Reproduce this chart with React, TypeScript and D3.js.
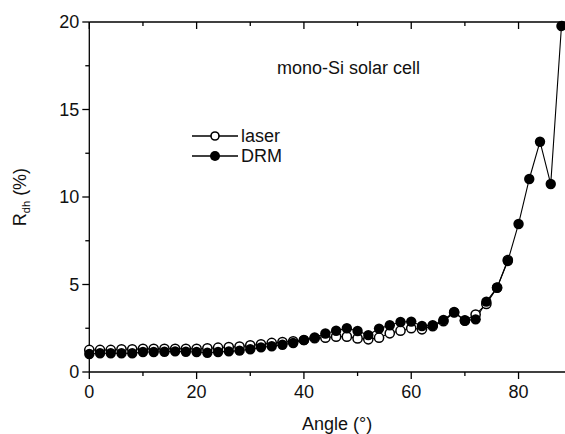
import React from 'react';
import * as d3 from 'd3';

const angles = d3.range(0, 90, 2);
const laserValues = [
  1.26, 1.26, 1.26, 1.3, 1.3, 1.32, 1.32, 1.33, 1.33, 1.33, 1.33, 1.35, 1.39, 1.43, 1.45, 1.52, 1.58, 1.66, 1.71, 1.75,
  1.83, 1.93, 1.96, 2.02, 2.02, 1.92, 1.87, 1.96, 2.21, 2.36, 2.5, 2.44, 2.62, 2.9, 3.4, 2.95, 3.28, 3.89, 4.82, 6.4,
];
const drmValues = [
  1.03, 1.07, 1.07, 1.07, 1.07, 1.14, 1.14, 1.16, 1.18, 1.16, 1.14, 1.1, 1.14, 1.18, 1.22, 1.3, 1.41, 1.47, 1.56, 1.66,
  1.82, 1.98, 2.2, 2.36, 2.5, 2.34, 2.11, 2.48, 2.67, 2.86, 2.88, 2.63, 2.67, 2.97, 3.43, 2.93, 3.01, 4.02, 4.82, 6.34,
  8.46, 11.03, 13.16, 10.74, 19.77,
];
const xMajor = [0, 20, 40, 60, 80];
const xMinor = [10, 30, 50, 70, 90];
const yMajor = [0, 5, 10, 15, 20];
const yMinor = [2.5, 7.5, 12.5, 17.5];

const W = 565;
const H = 434;
const FONT = 'Liberation Sans, Arial, sans-serif';
const FS = 18;

export default function App() {
  const x = d3.scaleLinear().domain([0, 90]).range([89.3, 572.2]);
  const y = d3.scaleLinear().domain([0, 20]).range([372, 22]);
  const [x0, x1] = x.range();
  const [y0, y1] = y.range();

  const laser = laserValues.map((v, i) => [angles[i], v] as [number, number]);
  const drm = drmValues.map((v, i) => [angles[i], v] as [number, number]);
  const line = d3.line<[number, number]>().x(d => x(d[0])).y(d => y(d[1]));

  const big = 7;
  const small = 4;

  return (
    <svg width={W} height={H} style={{ position: 'absolute', left: 0, top: 0, background: '#fff' }}>
      {/* frame */}
      <g stroke="#000" strokeWidth={1.3} fill="none">
        <line x1={x0} y1={y0} x2={x1} y2={y0} />
        <line x1={x0} y1={y1} x2={x1} y2={y1} />
        <line x1={x0} y1={y0} x2={x0} y2={y1} />
        <line x1={x1} y1={y0} x2={x1} y2={y1} />
        {xMajor.map(t => (
          <g key={'xM' + t}>
            <line x1={x(t)} x2={x(t)} y1={y0} y2={y0 + big} />
            <line x1={x(t)} x2={x(t)} y1={y1} y2={y1 + big} />
          </g>
        ))}
        {xMinor.map(t => (
          <g key={'xm' + t}>
            <line x1={x(t)} x2={x(t)} y1={y0} y2={y0 + small} />
            <line x1={x(t)} x2={x(t)} y1={y1} y2={y1 + small} />
          </g>
        ))}
        {yMajor.map(t => (
          <g key={'yM' + t}>
            <line x1={x0 - big} x2={x0} y1={y(t)} y2={y(t)} />
            <line x1={x1 - big} x2={x1} y1={y(t)} y2={y(t)} />
          </g>
        ))}
        {yMinor.map(t => (
          <g key={'ym' + t}>
            <line x1={x0 - small} x2={x0} y1={y(t)} y2={y(t)} />
            <line x1={x1 - small} x2={x1} y1={y(t)} y2={y(t)} />
          </g>
        ))}
      </g>

      {/* tick labels */}
      <g fontFamily={FONT} fontSize={FS} fill="#111">
        {xMajor.map(t => (
          <text key={'xl' + t} x={x(t)} y={y0 + 26} textAnchor="middle">{t}</text>
        ))}
        {yMajor.map(t => (
          <text key={'yl' + t} x={x0 - 10} y={y(t)} dy="0.35em" textAnchor="end">{t}</text>
        ))}
      </g>

      {/* axis titles */}
      <text x={(x0 + 565) / 2 + 10} y={430} textAnchor="middle" fontFamily={FONT} fontSize={FS} fill="#111">
        Angle (°)
      </text>
      <text transform="translate(26,197) rotate(-90)" textAnchor="middle" fontFamily={FONT} fontSize={FS} fill="#111">
        R<tspan fontSize={11} dy="4">dh</tspan><tspan dy="-4"> (%)</tspan>
      </text>

      {/* series */}
      <path d={line(laser) ?? ''} fill="none" stroke="#000" strokeWidth={1.1} />
      <path d={line(drm) ?? ''} fill="none" stroke="#000" strokeWidth={1.1} />
      {laser.map((d, i) => (
        <circle key={'l' + i} cx={x(d[0])} cy={y(d[1])} r={4.6} fill="#fff" stroke="#000" strokeWidth={1.5} />
      ))}
      {drm.map((d, i) => (
        <circle key={'d' + i} cx={x(d[0])} cy={y(d[1])} r={5.2} fill="#000" />
      ))}

      {/* annotation */}
      <text x={277} y={74} fontFamily={FONT} fontSize={FS} fill="#111">mono-Si solar cell</text>

      {/* legend */}
      <g fontFamily={FONT} fontSize={FS} fill="#111">
        <line x1={192} x2={238} y1={136} y2={136} stroke="#000" strokeWidth={1.3} />
        <circle cx={215} cy={136} r={4} fill="#fff" stroke="#000" strokeWidth={1.6} />
        <text x={241} y={142}>laser</text>
        <line x1={192} x2={238} y1={156} y2={156} stroke="#000" strokeWidth={1.3} />
        <circle cx={215} cy={156} r={5} fill="#000" />
        <text x={241} y={162}>DRM</text>
      </g>
    </svg>
  );
}
